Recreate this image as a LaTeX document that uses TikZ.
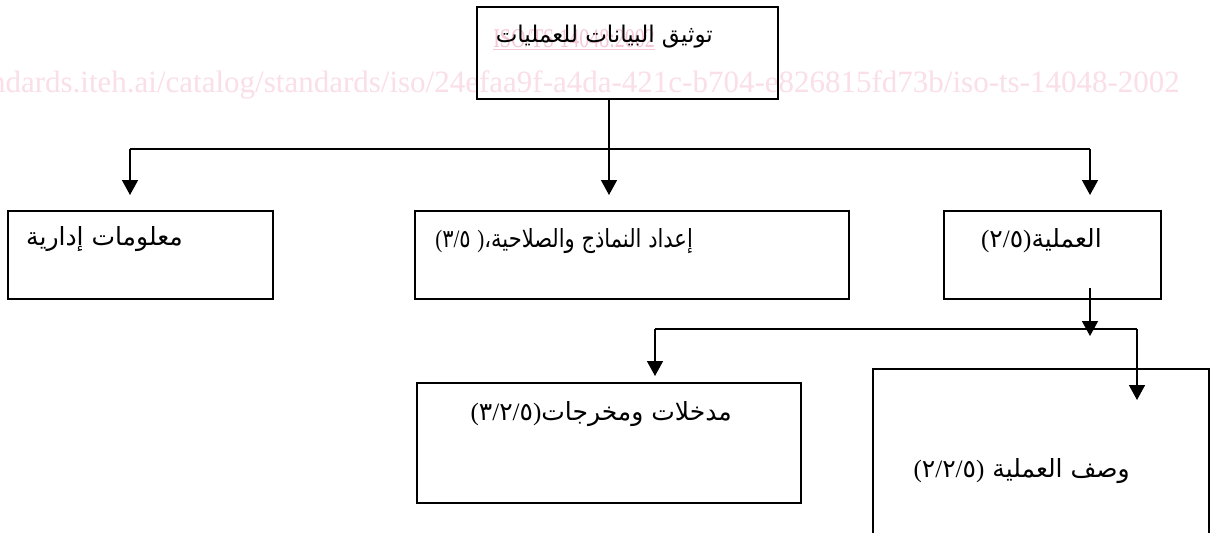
\documentclass[tikz,border=0pt]{standalone}
\usepackage{fontspec}
\setmainfont{Liberation Serif}
\newfontfamily\arabicfont[Script=Arabic]{DejaVu Sans}
\newfontfamily\wmfont{Liberation Serif}
\newfontfamily\numfont{Liberation Serif}
\TeXXeTstate=1
\usetikzlibrary{arrows.meta}
\newcommand\LP{\hbox{\numfont(}}
\newcommand\RP{\hbox{\numfont)}}
\newcommand\SL{\hbox{\numfont/}}
\newcommand\AD[1]{\hbox{#1}}
\definecolor{wmpink}{RGB}{250,222,232}
\definecolor{wmpinkB}{RGB}{244,198,214}
\tikzset{
  box/.style={draw=black, line width=1.5pt, inner sep=0pt},
  conn/.style={draw=black, line width=1.5pt},
  arr/.style={conn, -{Triangle[width=16pt,length=15pt]}},
  lbl/.style={inner sep=0pt, anchor=base east, font=\arabicfont\fontsize{25}{30}\selectfont},
  wm/.style={inner sep=0pt, anchor=base east, text=wmpink, font=\wmfont\fontsize{31}{33}\selectfont},
}
\begin{document}
\begin{tikzpicture}[x=1pt,y=-1pt]
\useasboundingbox (0,0) rectangle (1216,533);
\clip (0,0) rectangle (1216,533);
\fill[white] (0,0) rectangle (1216,533);
% watermark
\node[wm] (wm2) at (1180,92) {standards.iteh.ai/catalog/standards/iso/24efaa9f-a4da-421c-b704-e826815fd73b/iso-ts-14048-2002};
\node[wm, text=wmpinkB, font=\wmfont\fontsize{27}{29}\selectfont] (wm1) at (655,47) {\scalebox{0.74}[1]{\underline{ISO/TS 14048:2002}}};
% boxes
\node[box, minimum width=301pt, minimum height=92pt, line width=2pt] (top) at (627.5,53) {};
\node[box, minimum width=265pt, minimum height=88pt] (L) at (140.5,255) {};
\node[box, minimum width=434pt, minimum height=88pt] (M) at (632,255) {};
\node[box, minimum width=217pt, minimum height=88pt] (R) at (1052.5,255) {};
\node[box, minimum width=384pt, minimum height=120pt] (BM) at (609,443) {};
\node[box, minimum width=336pt, minimum height=200pt] (BR) at (1041,469) {};
% labels
\node[lbl, font=\arabicfont\fontsize{23}{28}\selectfont] (tTop) at (713,42) {\beginR توثيق البيانات للعمليات\endR};
\node[lbl] (tL) at (183,245) {\beginR معلومات إدارية\endR};
\node[lbl] (tM) at (693,247) {\scalebox{0.84}[1]{\LP\AD{٣}\SL\AD{٥}\ \RP\beginR إعداد النماذج والصلاحية،\endR}};
\node[lbl] (tR) at (1102,247) {\LP\AD{٢}\SL\AD{٥}\RP\beginR العملية\endR};
\node[lbl] (tBM) at (732,420) {\LP\AD{٣}\SL\AD{٢}\SL\AD{٥}\RP\beginR مدخلات ومخرجات\endR};
\node[lbl] (tBR) at (1130,477) {\LP\AD{٢}\SL\AD{٢}\SL\AD{٥}\RP\ \beginR وصف العملية\endR};
% connector coordinates
\coordinate (j) at (609,149);
\coordinate (jl) at (130,149);
\coordinate (jr) at (1090,149);
\coordinate (aL) at (130,195);
\coordinate (aM) at (609,195);
\coordinate (aR) at (1090,195);
\coordinate (rs) at (1090,288);
\coordinate (rt) at (1090,336);
\coordinate (kl) at (655,329);
\coordinate (kr) at (1137,329);
\coordinate (aBM) at (655,376);
\coordinate (aBR) at (1137,400);
% connectors
\draw[conn] (top.south -| j) -- (j);
\draw[conn] (jl) -- (jr);
\draw[arr] (jl) -- (aL);
\draw[arr] (j) -- (aM);
\draw[arr] (jr) -- (aR);
\draw[arr] (rs) -- (rt);
\draw[conn] (kl) -- (kr);
\draw[arr] (kl) -- (aBM);
\draw[arr] (kr) -- (aBR);
\end{tikzpicture}
\end{document}
